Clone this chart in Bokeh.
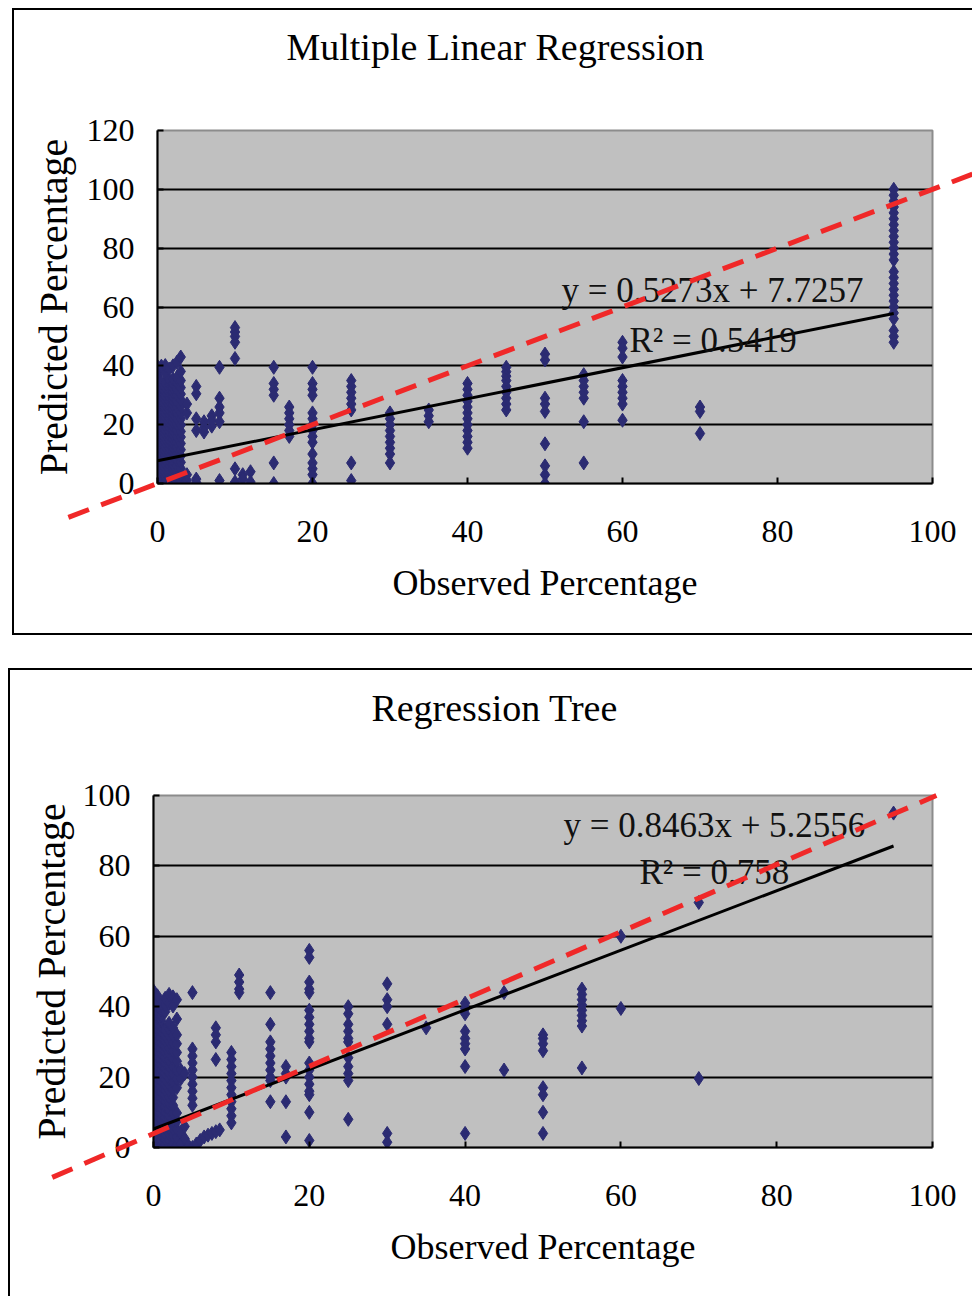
from bokeh.plotting import figure
from bokeh.models import Range1d, FixedTicker, Label
from bokeh.layouts import column
from bokeh.core.properties import value
from bokeh.embed import file_html
from bokeh.resources import INLINE

# ---------------- data: Multiple Linear Regression ----------------
mlr_title = "Multiple Linear Regression"
mlr_levels = [0, 0.5, 1, 1.5, 2, 2.5, 3, 3.8, 5, 6, 7, 8, 10, 11, 12, 15, 17, 20, 25, 30, 35, 40, 45, 50, 55, 60, 70, 95]
mlr_pred_by_level = [
    [0.5, 1.8, 3.2, 4.9, 6.1, 7.6, 9.0, 10.4, 12.1, 13.3, 14.8, 16.2, 17.9, 19.1, 20.6, 22.0, 23.5, 25.1, 26.4, 27.8, 29.3, 30.7, 32.2, 33.6, 35.1, 36.9, 38.2, 39.8],
    [0.2, 1.5, 2.9, 4.4, 5.8, 7.1, 8.7, 10.0, 11.6, 13.0, 14.3, 15.9, 17.2, 18.6, 20.1, 21.5, 23.0, 24.3, 25.9, 27.2, 28.6, 30.1, 31.5, 33.0, 34.4, 39.9],
    [0.8, 2.3, 3.7, 5.2, 6.6, 8.1, 9.5, 11.0, 12.4, 13.9, 15.3, 16.8, 18.2, 19.7, 21.1, 22.6, 24.0, 25.5, 26.9, 28.4, 29.8, 31.3, 32.7, 34.2, 37.5, 40.1],
    [0.3, 1.9, 3.4, 4.8, 6.3, 7.7, 9.2, 10.6, 12.0, 13.5, 14.9, 16.4, 17.8, 19.3, 20.7, 22.2, 23.6, 25.1, 26.5, 28.0, 29.4, 30.9, 32.3, 33.8, 35.2, 38.9],
    [0.6, 2.1, 3.5, 5.0, 6.4, 7.9, 9.3, 10.8, 12.2, 13.7, 15.1, 16.6, 18.0, 19.5, 20.9, 22.4, 23.8, 25.3, 26.7, 28.2, 29.6, 31.1, 32.5, 34.0, 35.5, 40.0],
    [0.4, 2.0, 4.1, 6.0, 8.2, 10.1, 12.3, 14.2, 16.0, 18.1, 20.2, 22.1, 24.2, 26.1, 28.0, 30.2, 32.1, 34.3, 36.0, 41.2],
    [0.9, 3.0, 5.1, 7.2, 9.4, 11.5, 13.6, 15.8, 17.7, 19.9, 22.0, 24.1, 26.3, 28.5, 30.4, 32.6, 35.0, 38.1, 43.0],
    [1.0, 3.0, 24.0, 27.0],
    [33.0, 30.5, 22.0, 18.0, 1.5, 0.3],
    [21.0, 19.0, 17.5],
    [23.0, 19.5, 21.5],
    [39.5, 29.0, 26.0, 21.0, 24.0, 1.0],
    [53.0, 51.5, 50.0, 48.0, 42.5, 5.0, 0.5],
    [3.0, 1.5],
    [4.0, 0.5],
    [39.5, 34.0, 32.0, 30.0, 7.0, 0.0],
    [26.0, 24.0, 22.0, 20.0, 18.0, 16.0],
    [39.5, 34.0, 32.0, 30.0, 24.0, 22.0, 20.0, 18.0, 16.0, 14.0, 10.0, 7.0, 5.0, 3.0, 0.0],
    [35.0, 33.0, 31.0, 29.0, 27.0, 25.0, 7.0, 1.0],
    [24.0, 22.0, 20.0, 18.0, 16.0, 14.0, 12.0, 10.0, 7.0],
    [25.0, 23.0, 21.0],
    [34.0, 32.0, 30.0, 28.0, 26.0, 24.0, 22.0, 20.0, 18.0, 16.0, 14.0, 12.0],
    [39.5, 38.0, 36.5, 35.0, 33.0, 31.0, 29.0, 27.0, 25.0],
    [44.0, 42.0, 29.0, 27.0, 24.5, 13.5, 6.0, 3.0, 0.0],
    [37.0, 35.0, 33.0, 31.0, 29.0, 21.0, 7.0],
    [48.0, 46.0, 43.0, 35.0, 33.0, 31.0, 29.0, 27.0, 21.5],
    [26.0, 24.5, 17.0],
    [100.0, 98.0, 96.0, 94.0, 92.0, 90.0, 88.0, 86.0, 84.0, 82.0, 80.0, 78.0, 76.0,
     72.0, 70.0, 68.0, 66.0, 64.0, 62.0, 60.0, 58.0, 56.0, 52.0, 50.0, 48.0],
]
mlr_fit_x = [0, 95]
mlr_fit_y = [7.73, 57.82]
mlr_ref_x = [-11.5, 105.5]
mlr_ref_y = [-11.5, 105.5]
mlr_equation = "y = 0.5273x + 7.7257"
mlr_r2 = "R\u00b2 = 0.5419"

# ---------------- data: Regression Tree ----------------
rt_title = "Regression Tree"
rt_levels = [0, 0.5, 1, 1.5, 2, 2.5, 3, 3.5, 4, 4.5, 5, 5.5, 6, 6.5, 7, 7.5, 8, 8.5, 10, 11, 15, 17, 20, 25, 30, 35, 40, 45, 50, 55, 60, 70, 95]
rt_pred_by_level = [
    [0.5, 2.0, 3.6, 5.1, 6.7, 8.2, 9.8, 11.3, 12.9, 14.4, 16.0, 17.5, 19.1, 20.6, 22.2, 23.7, 25.3, 26.8, 28.4, 29.9, 31.5, 33.0, 34.6, 36.1, 37.7, 39.2, 40.8, 42.3, 44.5],
    [1.2, 2.8, 4.3, 5.9, 7.4, 9.0, 10.5, 12.1, 13.6, 15.2, 16.7, 18.3, 19.8, 21.4, 22.9, 24.5, 26.0, 27.6, 29.1, 30.7, 32.2, 33.8, 35.3, 36.9, 38.4, 40.0, 41.5, 43.1],
    [0.3, 1.9, 3.4, 5.0, 6.5, 8.1, 9.6, 11.2, 12.7, 14.3, 15.8, 17.4, 18.9, 20.5, 22.0, 23.6, 25.1, 26.7, 28.2, 29.8, 31.3, 32.9, 34.4, 36.0, 37.5, 39.1, 40.6],
    [0.8, 2.4, 3.9, 5.5, 7.0, 8.6, 10.1, 11.7, 13.2, 14.8, 16.3, 17.9, 19.4, 21.0, 22.5, 24.1, 25.6, 27.2, 28.7, 30.3, 31.8, 33.4, 38.6, 40.5, 42.4],
    [0.4, 2.1, 3.8, 5.6, 7.3, 9.1, 10.8, 12.6, 14.3, 16.1, 17.8, 19.6, 21.3, 23.1, 24.8, 26.6, 28.3, 30.1, 31.8, 33.6, 35.3, 41.0, 43.5],
    [1.0, 3.2, 5.4, 7.6, 9.8, 12.0, 14.2, 16.4, 18.6, 20.8, 23.0, 25.2, 27.4, 29.6, 31.8, 34.0, 40.2, 42.8],
    [0.6, 2.9, 5.2, 7.5, 9.8, 17.0, 19.5, 22.0, 24.5, 27.0, 29.5, 32.0, 36.5, 42.0],
    [1.0, 4.0, 19.5, 22.0],
    [2.5, 6.0, 21.0],
    [0.5],
    [44.0, 28.0, 26.0, 24.0, 22.0, 20.0, 18.0, 16.0, 14.0, 12.0, 0.0],
    [1.0],
    [2.0],
    [3.0],
    [3.5],
    [4.0],
    [34.0, 32.0, 30.0, 25.0, 4.5],
    [5.0],
    [27.0, 25.0, 23.0, 21.0, 19.0, 17.0, 15.0, 13.0, 11.0, 9.0, 7.0],
    [49.0, 47.0, 45.0, 44.0],
    [44.0, 35.0, 30.0, 28.0, 26.0, 24.0, 22.0, 20.0, 19.0, 13.0],
    [23.0, 21.0, 20.0, 13.0, 3.0],
    [56.0, 54.0, 47.0, 45.0, 44.0, 39.0, 37.0, 35.0, 33.0, 31.0, 30.0, 24.0, 22.0, 20.0, 18.0, 16.0, 15.0, 10.0, 2.0],
    [40.0, 38.0, 35.0, 33.0, 31.0, 30.0, 25.5, 23.0, 21.0, 19.0, 8.0],
    [46.5, 42.0, 40.0, 35.0, 4.0, 1.5],
    [34.0],
    [41.0, 39.5, 38.0, 33.0, 31.0, 29.5, 28.0, 23.0, 4.0],
    [44.0, 22.0],
    [32.0, 31.0, 29.5, 27.5, 17.0, 15.0, 10.0, 4.0],
    [45.0, 43.5, 42.0, 40.5, 39.0, 37.5, 36.0, 34.5, 22.6],
    [60.0, 39.5],
    [69.6, 19.6],
    [95.0],
]
rt_fit_x = [0, 95]
rt_fit_y = [5.26, 85.66]
rt_ref_x = [-13.0, 100.5]
rt_ref_y = [-8.5, 100.0]
rt_equation = "y = 0.8463x + 5.2556"
rt_r2 = "R\u00b2 = 0.758"

x_ticks = [0, 20, 40, 60, 80, 100]

MARKER = "#2B2B72"
RED = "#F02828"
SERIF = "Liberation Serif"


def flatten(levels, preds):
    xs, ys = [], []
    for lv, vals in zip(levels, preds):
        for v in vals:
            xs.append(lv)
            ys.append(v)
    return xs, ys


def make_panel(title, title_pos, levels, preds, fit_x, fit_y, ref_x, ref_y, y_max, y_ticks,
               eq_text, eq_pos, r2_text, r2_pos, width, height, mb, margin, bottom_border,
               ylabel_standoff):
    p = figure(width=width, height=height, output_backend="svg", toolbar_location=None,
               x_range=Range1d(0, 100), y_range=Range1d(0, y_max),
               min_border_left=mb[0], min_border_right=mb[1],
               min_border_top=mb[2], min_border_bottom=mb[3])
    p.margin = margin
    st = {"border-left": "2px solid black", "border-top": "2px solid black"}
    if bottom_border:
        st["border-bottom"] = "2px solid black"
    p.styles = st
    p.background_fill_color = "#C0C0C0"
    p.border_fill_color = "white"
    p.outline_line_color = "#8C8C8C"
    p.outline_line_width = 2

    for ax in (p.xaxis[0], p.yaxis[0]):
        ax.axis_line_color = "black"
        ax.axis_line_width = 2
        ax.major_tick_in = 6
        ax.major_tick_out = 0
        ax.major_tick_line_width = 2
        ax.minor_tick_line_color = None
        ax.major_label_text_font = SERIF
        ax.major_label_text_font_size = "32px"
        ax.major_label_text_color = "black"
        ax.axis_label_text_font = SERIF
        ax.axis_label_text_font_style = "normal"
        ax.axis_label_text_color = "black"
    p.xaxis.ticker = FixedTicker(ticks=x_ticks)
    p.yaxis.ticker = FixedTicker(ticks=y_ticks)
    p.xaxis.axis_label = "Observed Percentage"
    p.xaxis.axis_label_text_font_size = "36px"
    p.xaxis.major_label_standoff = 37
    p.xaxis.axis_label_standoff = 18
    p.yaxis.axis_label = "Predicted Percentage"
    p.yaxis.axis_label_text_font_size = "40px"
    p.yaxis.major_label_standoff = 23
    p.yaxis.axis_label_standoff = ylabel_standoff

    p.xgrid.grid_line_color = None
    p.ygrid.grid_line_color = "black"
    p.ygrid.grid_line_width = 2
    p.ygrid.ticker = FixedTicker(ticks=y_ticks)

    xs, ys = flatten(levels, preds)
    p.scatter(xs, ys, marker="diamond", size=14, fill_color=MARKER, line_color=MARKER)
    p.line(fit_x, fit_y, line_color="black", line_width=3)
    p.line(ref_x, ref_y, line_color=RED, line_width=5, line_dash="22 13", level="overlay")
    for txt, pos in ((eq_text, eq_pos), (r2_text, r2_pos)):
        p.add_layout(Label(x=pos[0], y=pos[1], text=txt, text_align="center", text_baseline="middle",
                           text_font=SERIF, text_font_size="35px", text_color="#111111"))
    # chart title drawn as an unclipped text glyph above the plot area
    p.text(x=[title_pos[0]], y=[title_pos[1]], text=[title], text_align="center",
           text_baseline="middle", text_font=value(SERIF), text_font_size="38px",
           text_color="black", level="overlay")
    return p


title_pos_top = (43.6, 148.3)
eq_pos_top = (71.6, 65.5)
r2_pos_top = (71.7, 48.6)
title_pos_bot = (43.8, 125.0)
eq_pos_bot = (72.0, 91.5)
r2_pos_bot = (72.0, 78.1)

p1 = make_panel(mlr_title, title_pos_top, mlr_levels, mlr_pred_by_level, mlr_fit_x, mlr_fit_y,
                mlr_ref_x, mlr_ref_y, 120, [0, 20, 40, 60, 80, 100, 120],
                mlr_equation, eq_pos_top, mlr_r2, r2_pos_top,
                width=960, height=627, mb=(143, 42, 120, 154), margin=(8, 0, 0, 12),
                bottom_border=True, ylabel_standoff=8)
p2 = make_panel(rt_title, title_pos_bot, rt_levels, rt_pred_by_level, rt_fit_x, rt_fit_y,
                rt_ref_x, rt_ref_y, 100, [0, 20, 40, 60, 80, 100],
                rt_equation, eq_pos_bot, rt_r2, r2_pos_bot,
                width=964, height=628, mb=(143, 37, 125, 151), margin=(33, 0, 0, 8),
                bottom_border=False, ylabel_standoff=6)

layout = column(p1, p2, spacing=0)
open("out.html", "w").write(file_html(layout, INLINE))
